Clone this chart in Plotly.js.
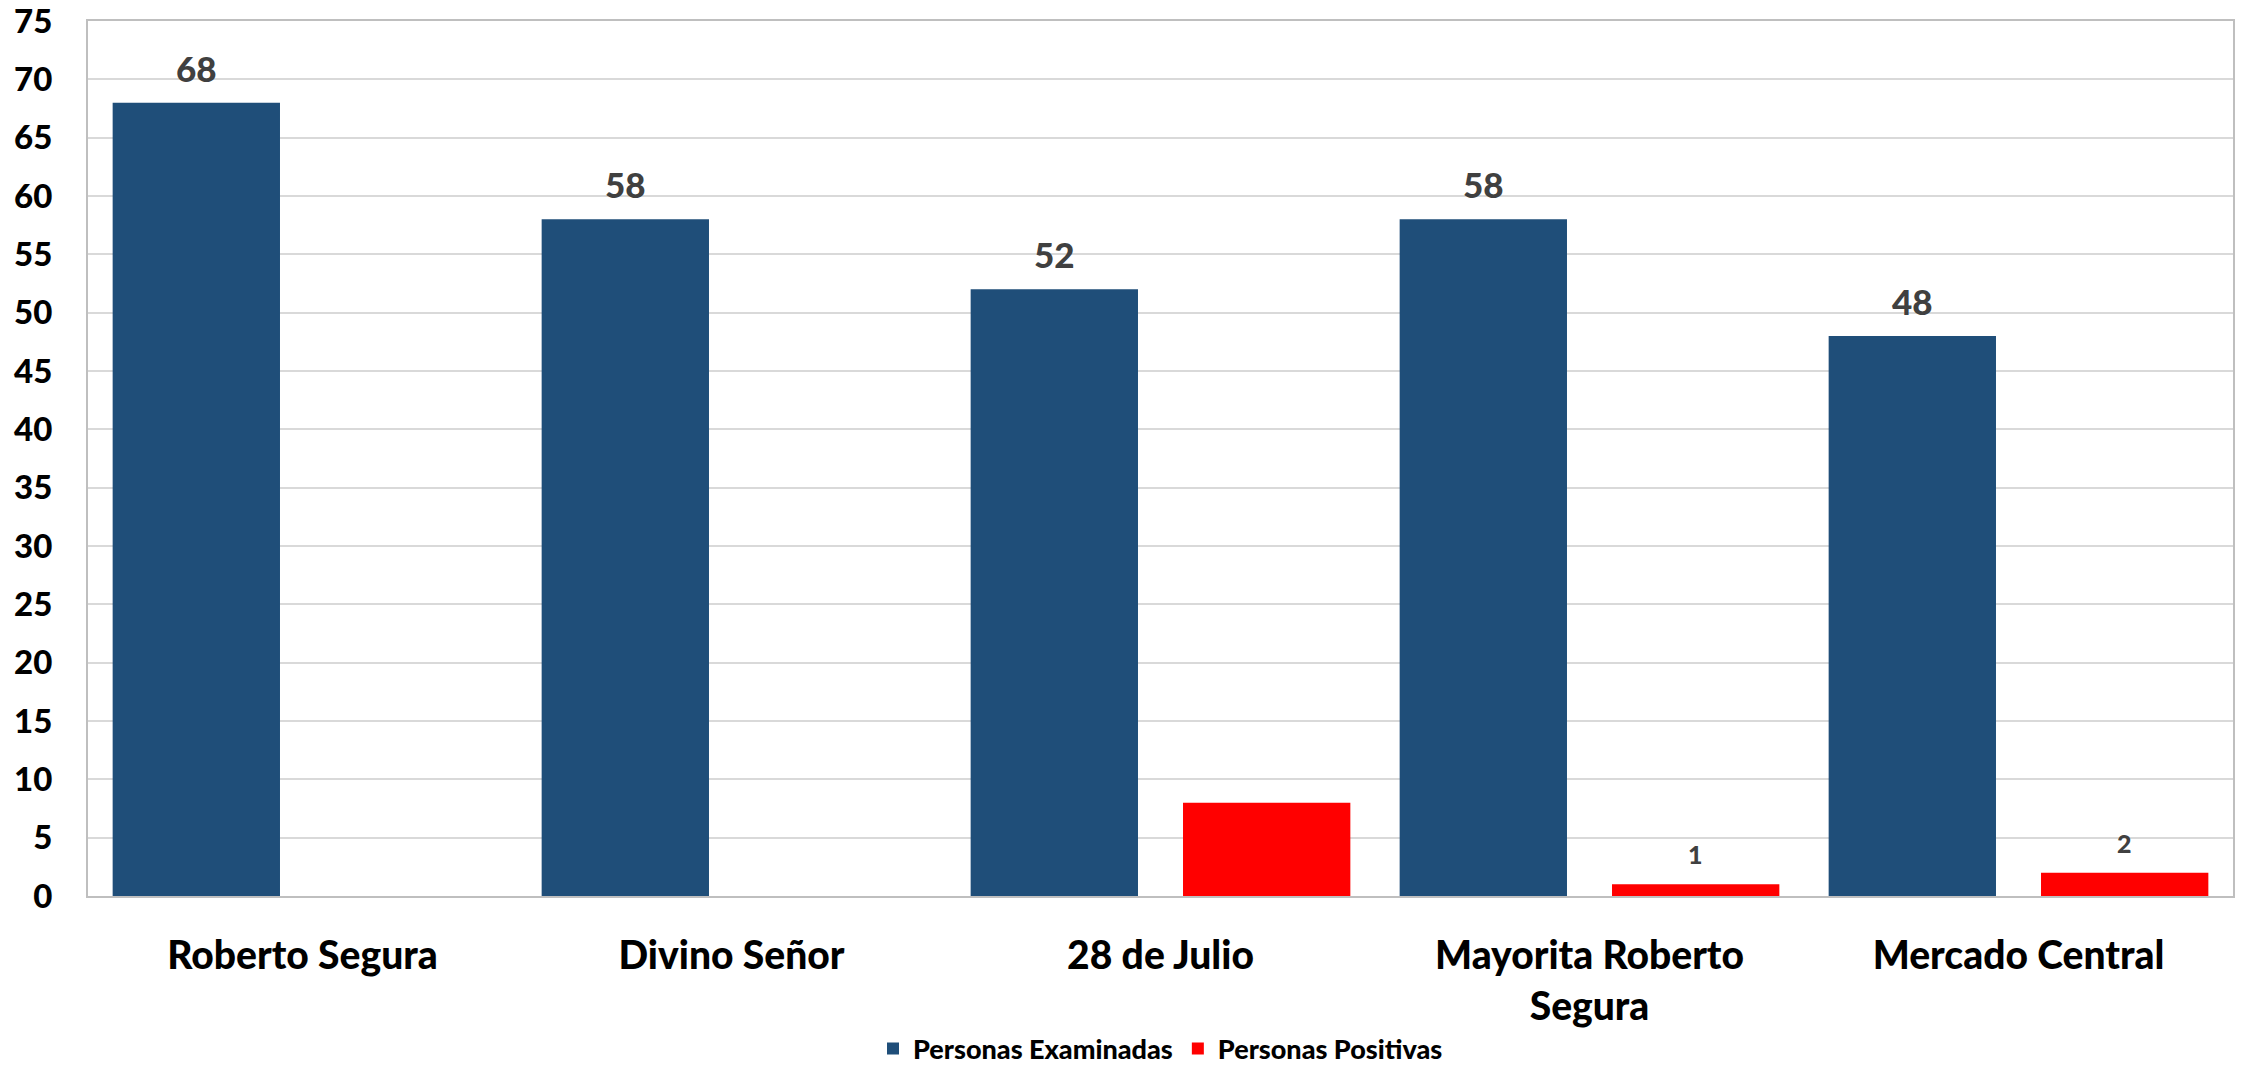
<!DOCTYPE html>
<html>
<head>
<meta charset="utf-8">
<script src="https://cdn.plot.ly/plotly-3.0.1.min.js"></script>
<style>html,body{margin:0;padding:0;background:#fff;}#chart{width:2246px;height:1067px;}</style>
</head>
<body>
<div id="chart"></div>
<script>
const categories = ["Roberto Segura", "Divino Señor", "28 de Julio", "Mayorita Roberto<br>Segura", "Mercado Central"];
const examinadas = [68, 58, 52, 58, 48];
const positivas = [0, 0, 8, 1, 2];
const showExaminadasLabel = [true, true, true, true, true];
const showPositivasLabel = [false, false, false, true, true];
const seriesNames = ["Personas Examinadas", "Personas Positivas"];
const yTicks = [0, 5, 10, 15, 20, 25, 30, 35, 40, 45, 50, 55, 60, 65, 70, 75];

const FONT = "Lato, 'Open Sans', sans-serif";
const blue = "#1F4E79";
const red = "#FF0000";
const labelColor = "#404040";

const traces = [
  { type: "bar", name: seriesNames[0], x: categories, y: examinadas, marker: { color: blue }, hoverinfo: "none" },
  { type: "bar", name: seriesNames[1], x: categories, y: positivas, marker: { color: red }, hoverinfo: "none" }
];

const bargap = 0.01;
const off = (1 - bargap) / 4;
const annotations = [];
categories.forEach((c, i) => {
  if (showExaminadasLabel[i]) annotations.push({
    x: i - off, y: examinadas[i], xref: "x", yref: "y", text: String(examinadas[i]),
    showarrow: false, yanchor: "bottom", yshift: 12,
    font: { family: FONT, size: 35, color: labelColor, weight: 900 }
  });
  if (showPositivasLabel[i]) annotations.push({
    x: i + off, y: positivas[i], xref: "x", yref: "y", text: String(positivas[i]),
    showarrow: false, yanchor: "bottom", yshift: 13,
    font: { family: FONT, size: 25, color: labelColor, weight: 900 }
  });
});

const layout = {
  width: 2246, height: 1067,
  margin: { l: 88, r: 13, t: 21, b: 171, autoexpand: false },
  paper_bgcolor: "#fff", plot_bgcolor: "#fff",
  barmode: "group", bargap: bargap, bargroupgap: 0.212,
  showlegend: true,
  legend: { orientation: "h", x: 0.5, xanchor: "center", yref: "container", y: 0.017, yanchor: "middle",
    font: { family: FONT, size: 27, color: "#000", weight: 900 }, itemwidth: 30, traceorder: "normal" },
  xaxis: {
    type: "category", showline: true, mirror: true, linecolor: "#bfbfbf", linewidth: 2, automargin: false,
    tickfont: { family: FONT, size: 39, color: "#000", weight: 900 }, ticks: "", ticklabelstandoff: 24
  },
  yaxis: {
    range: [0, 75], tickvals: yTicks, showgrid: true, gridcolor: "#d9d9d9", gridwidth: 2, automargin: false,
    showline: true, mirror: true, linecolor: "#bfbfbf", linewidth: 2, zeroline: false, ticklabeloverflow: "allow",
    tickfont: { family: FONT, size: 33, color: "#000", weight: 900 }, ticks: "", ticklabelstandoff: 27
  },
  annotations: annotations
};

Plotly.newPlot("chart", traces, layout, { staticPlot: true, displayModeBar: false });
</script>
</body>
</html>
